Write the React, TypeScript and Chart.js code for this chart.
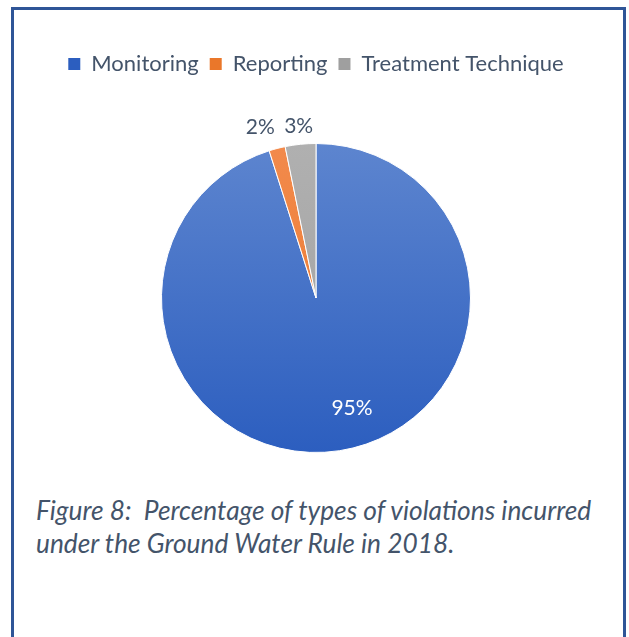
import React, { useEffect, useRef } from "react";
import { Chart, registerables } from "chart.js";

Chart.register(...registerables);

const categories = ["Monitoring", "Reporting", "Treatment Technique"];
const shares = [95.1, 1.7, 3.2];
const captionLines = [
  "Figure 8:  Percentage of types of violations incurred",
  "under the Ground Water Rule in 2018.",
];

const TEXT = "#44546A";
const FONT = "Lato, 'Open Sans', sans-serif";

const gradStops = [
  ["#5d85cf", "#2c5ebf"],
  ["#f28a4c", "#ea772a"],
  ["#b0b0b0", "#9f9f9f"],
];

// label placement per slice: radius factor and angular shift (deg)
const labelPlace = [
  { r: 0.75, shift: -9.3, color: "#ffffff" },
  { r: 1.16, shift: -3.5, color: TEXT },
  { r: 1.116, shift: 0, color: TEXT },
];

const labelPlugin = {
  id: "sliceLabels",
  afterDatasetsDraw(chart: any) {
    const meta = chart.getDatasetMeta(0);
    const data = chart.data.datasets[0].data as number[];
    const total = data.reduce((a, b) => a + b, 0);
    const ctx = chart.ctx;
    ctx.save();
    ctx.font = `21px ${FONT}`;
    ctx.textAlign = "center";
    ctx.textBaseline = "middle";
    meta.data.forEach((arc: any, i: number) => {
      const { x, y, startAngle, endAngle, outerRadius } = arc.getProps(
        ["x", "y", "startAngle", "endAngle", "outerRadius"],
        true
      );
      const p = labelPlace[i];
      const mid = (startAngle + endAngle) / 2 + (p.shift * Math.PI) / 180;
      const lx = x + Math.cos(mid) * outerRadius * p.r;
      const ly = y + Math.sin(mid) * outerRadius * p.r;
      ctx.fillStyle = p.color;
      ctx.fillText(Math.round((data[i] / total) * 100) + "%", lx, ly);
    });
    ctx.restore();
  },
};

const legendSpace = {
  id: "legendSpace",
  beforeInit(chart: any) {
    const legend = chart.legend;
    if (!legend) return;
    const orig = legend.fit;
    legend.fit = function () {
      orig.call(this);
      this.height += 58;
    };
  },
};

export default function App() {
  const ref = useRef<HTMLCanvasElement | null>(null);
  useEffect(() => {
    if (!ref.current) return;
    const chart = new Chart(ref.current, {
      type: "pie",
      data: {
        labels: categories,
        datasets: [
          {
            data: shares,
            backgroundColor: (c: any) => {
              const ch = c.chart;
              const area = ch.chartArea;
              const idx = c.dataIndex ?? 0;
              if (!area) return gradStops[idx][0];
              const g = ch.ctx.createLinearGradient(0, area.top, 0, area.bottom);
              g.addColorStop(0, gradStops[idx][0]);
              g.addColorStop(1, gradStops[idx][1]);
              return g;
            },
            borderColor: "#ffffff",
            borderWidth: 1,
          },
        ],
      },
      options: {
        responsive: false,
        animation: false,
        layout: { padding: { top: 32, bottom: 27, left: 0, right: 0 } },
        plugins: {
          tooltip: { enabled: false },
          legend: {
            position: "top",
            labels: {
              color: TEXT,
              font: { family: FONT, size: 22 },
              boxWidth: 12,
              boxHeight: 12,
              padding: 11,
              generateLabels: (ch: any) =>
                ch.data.labels.map((l: string, i: number) => ({
                  text: l,
                  fillStyle: gradStops[i][1],
                  strokeStyle: gradStops[i][1],
                  lineWidth: 0,
                  fontColor: TEXT,
                  index: i,
                  hidden: false,
                })),
            },
          },
        },
      },
      plugins: [legendSpace, labelPlugin],
    });
    return () => chart.destroy();
  }, []);

  return (
    <div
      style={{
        position: "absolute",
        left: 0,
        top: 0,
        width: 629,
        height: 637,
        background: "#fff",
        overflow: "hidden",
      }}
    >
      <div
        style={{
          position: "absolute",
          left: 11,
          top: 7,
          width: 609,
          height: 660,
          border: "3px solid #2F5597",
        }}
      />
      <canvas
        ref={ref}
        width={608}
        height={470}
        style={{ position: "absolute", left: 12, top: 10, width: 608, height: 470 }}
      />
      <div
        style={{
          position: "absolute",
          left: 36,
          top: 494,
          fontFamily: FONT,
          fontStyle: "italic",
          fontSize: 26.3,
          lineHeight: "33px",
          color: TEXT,
          whiteSpace: "pre",
        }}
      >
        {captionLines.map((l, i) => (
          <div key={i}>{l}</div>
        ))}
      </div>
    </div>
  );
}
